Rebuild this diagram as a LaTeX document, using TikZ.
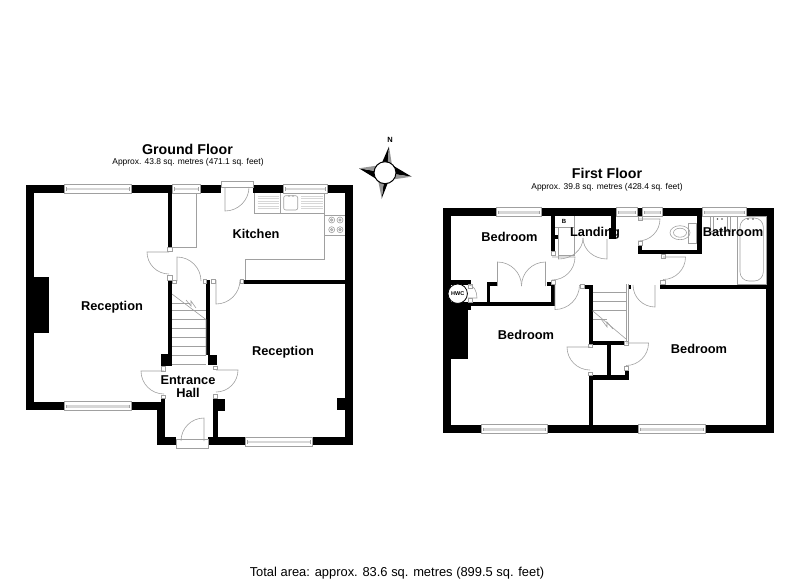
\documentclass[tikz,border=0pt]{standalone}
\usepackage{fontspec}
\setmainfont{Liberation Sans}
\usepackage{tikz}
\usetikzlibrary{
  calc,
  positioning,
}
\definecolor{planline}{RGB}{160, 160, 160}
\definecolor{glazing}{RGB}{215, 215, 215}
\definecolor{needle}{RGB}{150, 150, 150}
\tikzstyle{wall} = [fill=black]
\tikzstyle{thin line} = [draw=planline, line width=0.6pt]
\tikzstyle{door} = [thin line]
\tikzstyle{jamb} = [thin line, fill=white]
\tikzstyle{room} = [inner sep=0pt, font=\fontsize{12.8}{14}\selectfont\bfseries]
\tikzstyle{title} = [inner sep=0pt, font=\fontsize{14.2}{16}\selectfont\bfseries]
\tikzstyle{area} = [inner sep=0pt, font=\fontsize{8.45}{10}\selectfont]

\begin{document}
\begin{tikzpicture}[x=1pt, y=-1pt]
      \useasboundingbox (0,0) rectangle (800,582);

      % ground floor walls
      \foreach \xa/\ya/\xb/\yb in {
        26/184.5/34/410, 26/184.5/64/193, 131/184.5/172/193, 200/184.5/221/193,
        253/184.5/283/193, 327/184.5/353/193, 345/184.5/353/445, 312/437/353/445,
        208/437/245/445, 157/437/176/445, 157/402/165/445, 131/402/165/410,
        26/402/64/410, 161/397/165/402, 213/398/218/437, 213/399/225/411,
        337/398/345/410, 168/193/172/247, 168/280/172/366, 161/354/172/366,
        206/280/210/355, 208/355/217/365, 243/279.5/345/283.5, 34/277/48.5/333
      } \fill[wall] (\xa,\ya) rectangle (\xb,\yb);

      % first floor walls
      \foreach \xa/\ya/\xb/\yb in {
        442.5/208/451/433, 442.5/208/496/216, 541/208/616/216, 637.5/208/642/216,
        662.5/208/702.5/216, 746/208/774/216, 766/208/774/433, 705/424.5/774/433,
        547/424.5/638/433, 442.5/424.5/481/433, 442.5/302/467.5/358.5,
        442.5/302/554.5/306, 467/306/471/310, 451/280/471/284.5, 487/282/490/302,
        487/282/497/286, 547/282/555/286, 551/286/554.5/306, 551/216/554.5/251,
        554/235/557.5/238.5, 608.5/228/616/239, 611/216/616/239, 584/284.5/592.5/288.5,
        588.5/284.5/592.5/344.5, 588.5/340.5/624.5/344.5, 606.5/344.5/610.5/380,
        588.5/375/628.5/379.5, 624.5/370/628.5/380, 588.5/375/592.5/424.5,
        638/250/702/254, 697/216/702/254, 638/245/642/254, 660/284.5/766/288.5,
        628/284.5/631/288.5
      } \fill[wall] (\xa,\ya) rectangle (\xb,\yb);

      % windows
      \foreach \xa/\xb/\ya in {
        64/131/184, 172/200/184, 283/327/184, 64/131/401.5, 245/312/437,
        496/541/207.5, 616/637.5/207.5, 642/662.5/207.5, 702.5/746/207.5,
        481/547/424.5, 638/705/424.5
      } {
        \draw[thin line, fill=white] (\xa,\ya) rectangle (\xb,\ya+9);
        \fill[glazing] (\xa+2,\ya+3.5) rectangle (\xb-2,\ya+6);
        \draw[thin line] (\xa+2,\ya+3) -- (\xa+2,\ya+6.5) (\xb-2,\ya+3) -- (\xb-2,\ya+6.5);
      }

      % door jambs
      \foreach \xa/\ya/\xb/\yb in {
        167.5/247.5/172/251, 167.5/275.5/172/280, 172/280/176/283, 203/279.5/206/283,
        211/279.5/215/283, 240/279.5/243/283, 161.5/366/165.5/371, 161.5/395/165.5/398,
        213.5/366/217.5/369, 213.5/394/217.5/398,
        551/251/555/255, 551/280/555/284, 580/284.5/584/288, 588/344.5/592/347.5,
        588/372/592/375, 624.5/341/628/345, 624.5/366/628/370, 638/216/642/220,
        638/241.5/642/245, 661.5/254/665.5/258, 660/280.5/665/284.5,
        468/284.5/472/288, 468/298/472/302
      } \draw[jamb] (\xa,\ya) rectangle (\xb,\yb);

      % doors
      \foreach \cx/\cy/\sa/\ea/\rr in {
        169/252/180/90/22, 177/281/270/360/24, 216/280/90/0/24, 164/371/180/90/23,
        216/370/0/90/22, 204/441/270/180/23, 225/187/90/0/24,
        552/257/0/90/23, 555/285/90/0/24.5, 626/343/0/90/22.5, 590/347/180/90/23,
        638/219/0/90/22, 663/257/0/90/22.5, 655/285/90/180/22
      } \draw[door] (\cx,\cy) -- ++(\sa:\rr) arc[start angle=\sa, end angle=\ea, radius=\rr];
      \draw[door] (497.5,286) -- (497.5,262) arc[start angle=270, end angle=360, radius=24];
      \draw[door] (545.5,286) -- (545.5,262) arc[start angle=270, end angle=180, radius=24];
      \draw[door] (583,238) arc[start angle=0, end angle=90, x radius=24.5, y radius=21] -- (558.5,227);
      \draw[door] (583,238) arc[start angle=180, end angle=90, x radius=24, y radius=21] -- (607,239);
      \draw[door] (558.5,255) -- (575,255) (574.5,216) -- (574.5,255);
      \draw[door] (469,285) arc[start angle=270, end angle=360, x radius=8, y radius=13] -- (468,298);
      \draw[door] (176,439) rectangle (208,448);
      \draw[door] (221,181) rectangle (253,187);
      \draw[door] (172,247) -- (196,247) -- (196,193);

      % ground floor stairs
      \foreach \yy in {310.7,319.3,328.3,337.3,346,355,364}
        \draw[thin line] (172,\yy) -- (206,\yy);
      \draw[thin line] (172,294) -- (206,319.5) -- (206,355);
      \draw[thin line] (172,303) -- (190,303);
      \draw[thin line] (186,300) -- (191,306) -- (191,301) -- (196,308);

      % first floor stairs
      \foreach \yy in {292.3,301.5,310.7}
        \draw[thin line] (592.5,\yy) -- (627,\yy);
      \draw[thin line] (592.5,319.3) -- (607,319.3);
      \draw[thin line] (592.5,310.7) -- (626,339);
      \draw[thin line] (626.5,284) -- (626.5,341) (628.5,284) -- (628.5,341);
      \draw[thin line] (601,319) -- (607,327) -- (607,322) -- (613,329);

      % kitchen fittings
      \draw[thin line] (254.5,193) -- (254.5,213.5) -- (324.5,213.5) -- (324.5,259.5) -- (245,259.5) -- (245,279.5);
      \draw[thin line] (280.7,193) -- (280.7,213.5) (324.5,193) -- (324.5,213.5);
      \draw[thin line] (324.5,215) -- (345,215) (324.5,235.7) -- (345,235.7);
      \foreach \yy in {196,198.5,201,203.5,206,208.5} {
        \draw[glazing, line width=0.6pt] (257.5,\yy) -- (279,\yy);
        \draw[glazing, line width=0.6pt] (301,\yy) -- (322.5,\yy);
      }
      \draw[thin line, rounded corners=2pt] (283.7,195.7) rectangle (297.7,210);
      \foreach \xx/\yy in {331.7/220, 340/220, 331.7/229.7, 340/229.7} {
        \draw[thin line] (\xx,\yy) circle (3);
        \draw[thin line, fill=glazing] (\xx,\yy) circle (1.3);
      }
      \foreach \xx in {289,293}
        \fill[planline] (\xx,196) circle (0.9);

      % bathroom fittings
      \draw[thin line] (737.7,216) rectangle (766,284.5);
      \draw[thin line, rounded corners=9pt] (740,218) rectangle (763.3,281);
      \draw[thin line] (710,216) rectangle (730.7,231.7);
      \draw[thin line] (713,217) -- (713,231) (727.5,217) -- (727.5,231);
      \foreach \xx in {717.5,722,748,753}
        \fill[black!70] (\xx,219) circle (0.9);
      \draw[thin line] (680,232.7) ellipse (10 and 7);
      \draw[thin line] (680,232.7) ellipse (6.5 and 4.5);
      \draw[thin line] (688.3,223.3) rectangle (696.5,243.3);

      % cupboards
      \draw[thin line] (555,226.8) -- (574.5,226.8);
      \draw[fill=white, draw=black, line width=0.8pt] (457.7,293.7) circle (9.7);

      \node[inner sep=0pt, font=\fontsize{5.5}{6}\selectfont\bfseries] (hwc) at (457.7,294) {HWC};
      \node[inner sep=0pt, font=\fontsize{6}{7}\selectfont\bfseries] (boiler) at (564,221.5) {B};

      % compass
      \foreach \tx/\ty/\ax/\ay/\bx/\by in {
        389/146.5/387/172/381/165, 411.7/176.7/385/172.7/392/165,
        381.7/198.5/385/172.7/389/180, 359/168.3/385/172.7/378/180
      } \fill[black] (\tx,\ty) -- (\ax,\ay) -- (\bx,\by) -- cycle;
      \foreach \tx/\ty/\ax/\ay/\bx/\by in {
        389/146.5/387/172/392/165, 411.7/176.7/385/172.7/389/180,
        381.7/198.5/385/172.7/378/180, 359/168.3/385/172.7/381/165
      } \fill[needle] (\tx,\ty) -- (\ax,\ay) -- (\bx,\by) -- cycle;
      \draw[fill=white, draw=black, line width=1pt] (385,172.7) circle (11);
      \node[inner sep=0pt, font=\fontsize{7.5}{8}\selectfont\bfseries] (north) at (390,140) {N};

      % titles
      \node[title] (groundtitle) at (187.5,149) {Ground Floor};
      \node[area] (groundarea) at (188,162) {Approx. 43.8 sq. metres (471.1 sq. feet)};
      \node[title] (firsttitle) at (607,173) {First Floor};
      \node[area] (firstarea) at (607,187) {Approx. 39.8 sq. metres (428.4 sq. feet)};
      \node[inner sep=0pt, font=\fontsize{12.9}{14}\selectfont] (total) at (397,573) {Total area: approx. 83.6 sq. metres (899.5 sq. feet)};

      % rooms
      \node[room] (kitchen) at (256,234) {Kitchen};
      \node[room] (recleft) at (112,307) {Reception};
      \node[room] (recright) at (283,352) {Reception};
      \node[room] (entrance) at (188,380) {Entrance};
      \node[room] (hall) at (188,393) {Hall};
      \node[room] (bedone) at (509.5,237) {Bedroom};
      \node[room] (landing) at (595,233) {Landing};
      \node[room] (bathroom) at (733,232) {Bathroom};
      \node[room] (bedtwo) at (526,335) {Bedroom};
      \node[room] (bedthree) at (699,349) {Bedroom};

    \end{tikzpicture}
\end{document}
